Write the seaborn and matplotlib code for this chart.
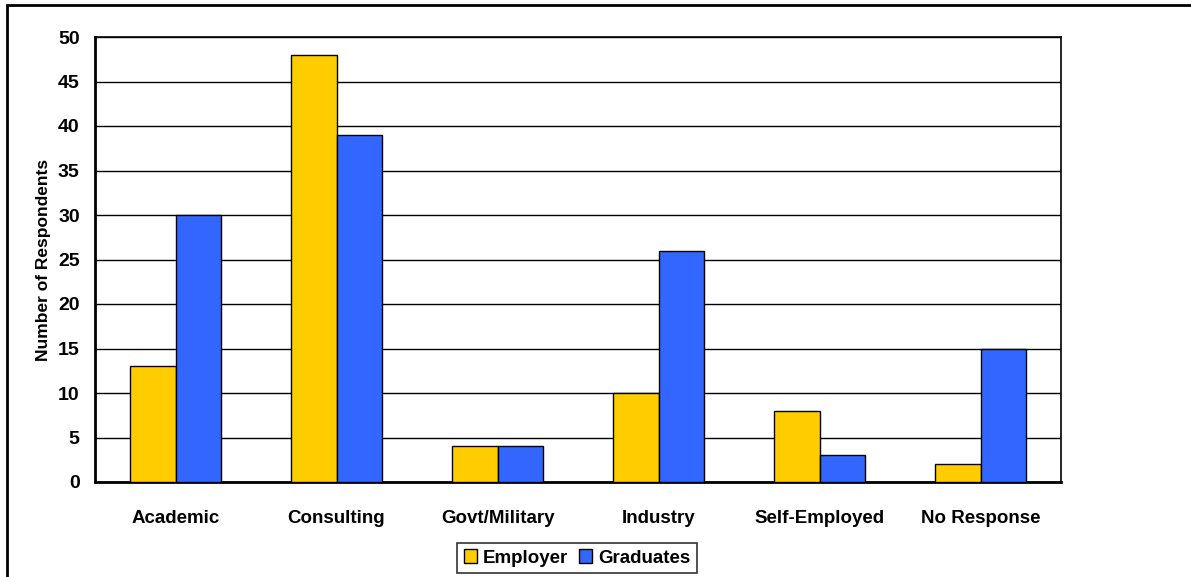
import matplotlib
matplotlib.use("Agg")
import matplotlib.pyplot as plt
import seaborn as sns
import pandas as pd
from matplotlib.patches import Rectangle

categories = ["Academic", "Consulting", "Govt/Military", "Industry", "Self-Employed", "No Response"]
employer = [13, 48, 4, 10, 8, 2]
graduates = [30, 39, 4, 26, 3, 15]
series_names = ["Employer", "Graduates"]
colors = ["#FFCC00", "#3366FF"]
yticks = list(range(0, 55, 5))

df = pd.DataFrame({
    "Category": categories * 2,
    "Series": [series_names[0]] * len(categories) + [series_names[1]] * len(categories),
    "Value": employer + graduates,
})

sns.set_style("white")
plt.rcParams["font.family"] = ["Liberation Sans", "DejaVu Sans"]
plt.rcParams["font.weight"] = "bold"
plt.rcParams["text.color"] = "black"
plt.rcParams["axes.labelcolor"] = "black"
plt.rcParams["xtick.color"] = "black"
plt.rcParams["ytick.color"] = "black"

fig = plt.figure(figsize=(11.91, 5.77), dpi=100)
ax = fig.add_axes([95 / 1191, 1 - 482 / 577, (1061 - 95) / 1191, (482 - 37) / 577])

sns.barplot(data=df, x="Category", y="Value", hue="Series", order=categories,
            hue_order=series_names, palette=colors, width=0.57, edgecolor="black",
            linewidth=1.0, saturation=1, ax=ax, legend=True, zorder=3)

ax.set_ylim(0, 50)
ax.set_xlim(-0.5, len(categories) - 0.5)
ax.set_yticks(yticks)
ax.set_yticklabels([str(v) for v in yticks], fontsize=14, fontweight="bold", color="black")
ax.yaxis.grid(True, color="black", linewidth=1.0, zorder=0)
ax.set_axisbelow(True)
ax.tick_params(axis="y", direction="out", length=7, width=1.0, color="black", pad=4,
               labelcolor="black")

ax.set_xticks(range(len(categories)))
ax.set_xticklabels(categories, fontsize=13.5, fontweight="bold", color="black")
ax.tick_params(axis="x", which="major", length=0, pad=20, labelcolor="black")
ax.set_xticks([i - 0.5 for i in range(len(categories) + 1)], minor=True)
ax.tick_params(axis="x", which="minor", direction="out", length=6, width=1.0, color="black")

ax.set_xlabel("")
ax.set_ylabel("Number of Respondents", fontsize=12.5, fontweight="bold", labelpad=5,
              color="black")

for side in ["left", "bottom"]:
    ax.spines[side].set_color("black")
    ax.spines[side].set_linewidth(2.0)
for side in ["top", "right"]:
    ax.spines[side].set_visible(True)
    ax.spines[side].set_color("black")
    ax.spines[side].set_linewidth(1.2)

leg = ax.legend(loc="center", bbox_to_anchor=(577 / 1191, 1 - 558 / 577),
                bbox_transform=fig.transFigure, ncol=2, frameon=True,
                fancybox=False, edgecolor="black", handlelength=0.7,
                handleheight=0.7, handletextpad=0.3, columnspacing=0.6,
                borderpad=0.35, prop={"size": 13.5, "weight": "bold"})
leg.get_frame().set_linewidth(1.2)
for t in leg.get_texts():
    t.set_color("black")
for h in leg.legend_handles:
    h.set_edgecolor("black")
    h.set_linewidth(1.0)

fig.patches.append(Rectangle((7 / 1191, -0.1), 1.2, 1 - 5 / 577 + 0.1,
                             transform=fig.transFigure, fill=False,
                             edgecolor="black", linewidth=2.0))

fig.savefig("out.png", dpi=100)
